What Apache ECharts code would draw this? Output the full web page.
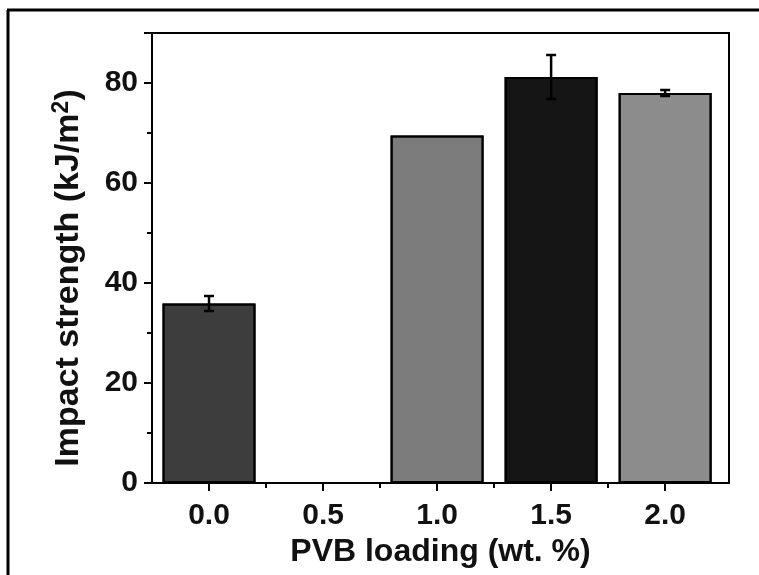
<!DOCTYPE html>
<html lang="en">
<head>
  <meta charset="UTF-8">
  <title>Impact strength</title>
  <script src="https://cdn.jsdelivr.net/npm/echarts@6/dist/echarts.min.js"></script>
</head>
<body style="margin:0;background:#fff">
  <div id="main" style="width:759px;height:575px"></div>
  <script>
    // PVB loading (wt. %) and impact strength (kJ/m2)
    var loading = [0.0, 1.0, 1.5, 2.0]
    var strength = [35.9, 69.5, 81.2, 78.0]
    var errors = [1.5, 0, 4.4, 0.6]
    var barColors = ['#3d3d3d', '#7c7c7c', '#151515', '#8c8c8c']
    var majorTicks = [0, 0.5, 1.0, 1.5, 2.0]
    var minorTicks = [0.25, 0.75, 1.25, 1.75]

    var font = 'Liberation Sans, Arial, sans-serif'
    var chart = echarts.init(document.getElementById('main'))

    var barData = loading.map(function (x, i) {
      return {
        value: [x, strength[i]],
        itemStyle: {
          color: barColors[i],
          // faint diagonal hatching like the original fill
          decal: {
            symbol: 'none',
            dashArrayX: [1, 0],
            dashArrayY: [1, 40],
            rotation: -Math.PI / 4,
            color: 'rgba(255,255,255,0.15)'
          }
        }
      }
    })
    var errData = []
    loading.forEach(function (x, i) {
      if (errors[i] > 0) errData.push([x, strength[i] - errors[i], strength[i] + errors[i]])
    })

    var option = {
      animation: false,
      aria: { enabled: true, decal: { show: true } },
      grid: {
        left: 152, right: 30, top: 33, bottom: 92,
        show: true, borderColor: '#000', borderWidth: 2
      },
      xAxis: [{
        type: 'value',
        min: -0.25,
        max: 2.28,
        splitLine: { show: false },
        axisLine: { lineStyle: { color: '#000', width: 2 } },
        axisTick: { customValues: majorTicks, length: 8, lineStyle: { color: '#000', width: 2 } },
        axisLabel: {
          customValues: majorTicks,
          formatter: function (v) { return v.toFixed(1) },
          color: '#111', fontFamily: font, fontWeight: 'bold', fontSize: 30, margin: 18
        },
        name: 'PVB loading (wt. %)',
        nameLocation: 'middle',
        nameGap: 50,
        nameTextStyle: { color: '#111', fontFamily: font, fontWeight: 'bold', fontSize: 32 }
      }, {
        // short ticks between the labelled ones
        type: 'value',
        position: 'bottom',
        min: -0.25,
        max: 2.28,
        splitLine: { show: false },
        axisLine: { show: false },
        axisTick: { customValues: minorTicks, length: 5, lineStyle: { color: '#000', width: 2 } },
        axisLabel: { show: false }
      }],
      yAxis: {
        type: 'value',
        min: 0,
        max: 90,
        interval: 20,
        splitLine: { show: false },
        axisLine: { show: true, onZero: false, lineStyle: { color: '#000', width: 2 } },
        axisTick: { length: 8, lineStyle: { color: '#000', width: 2 } },
        minorTick: { show: true, splitNumber: 2, length: 5, lineStyle: { color: '#000', width: 2 } },
        axisLabel: {
          showMaxLabel: false,
          color: '#111', fontFamily: font, fontWeight: 'bold', fontSize: 30, margin: 14
        },
        name: '{a|Impact strength (kJ/m}{b|2}{a|)}',
        nameLocation: 'middle',
        nameGap: 64,
        nameTextStyle: {
          padding: [0, 40, 0, 0],
          rich: {
            a: { color: '#111', fontFamily: font, fontWeight: 'bold', fontSize: 34, lineHeight: 38 },
            b: { color: '#111', fontFamily: font, fontWeight: 'bold', fontSize: 23, verticalAlign: 'top', lineHeight: 38, padding: [0, 0, 12, 0] }
          }
        }
      },
      series: [{
        type: 'bar',
        barWidth: 93,
        data: barData,
        itemStyle: { borderColor: '#000', borderWidth: 2 }
      }, {
        type: 'custom',
        data: errData,
        z: 5,
        renderItem: function (params, api) {
          var x = api.value(0)
          var lo = api.coord([x, api.value(1)])
          var hi = api.coord([x, api.value(2)])
          var w = 5
          var style = { stroke: '#000', lineWidth: 2.5, decal: null }
          return {
            type: 'group',
            children: [
              { type: 'line', shape: { x1: lo[0], y1: lo[1], x2: hi[0], y2: hi[1] }, style: style },
              { type: 'line', shape: { x1: lo[0] - w, y1: lo[1], x2: lo[0] + w, y2: lo[1] }, style: style },
              { type: 'line', shape: { x1: hi[0] - w, y1: hi[1], x2: hi[0] + w, y2: hi[1] }, style: style }
            ]
          }
        }
      }],
      graphic: [
        { type: 'line', shape: { x1: 7, y1: 10, x2: 759, y2: 10 }, style: { stroke: '#000', lineWidth: 3 } },
        { type: 'line', shape: { x1: 8, y1: 10, x2: 8, y2: 575 }, style: { stroke: '#000', lineWidth: 3 } }
      ]
    }
    chart.setOption(option)
  </script>
</body>
</html>
